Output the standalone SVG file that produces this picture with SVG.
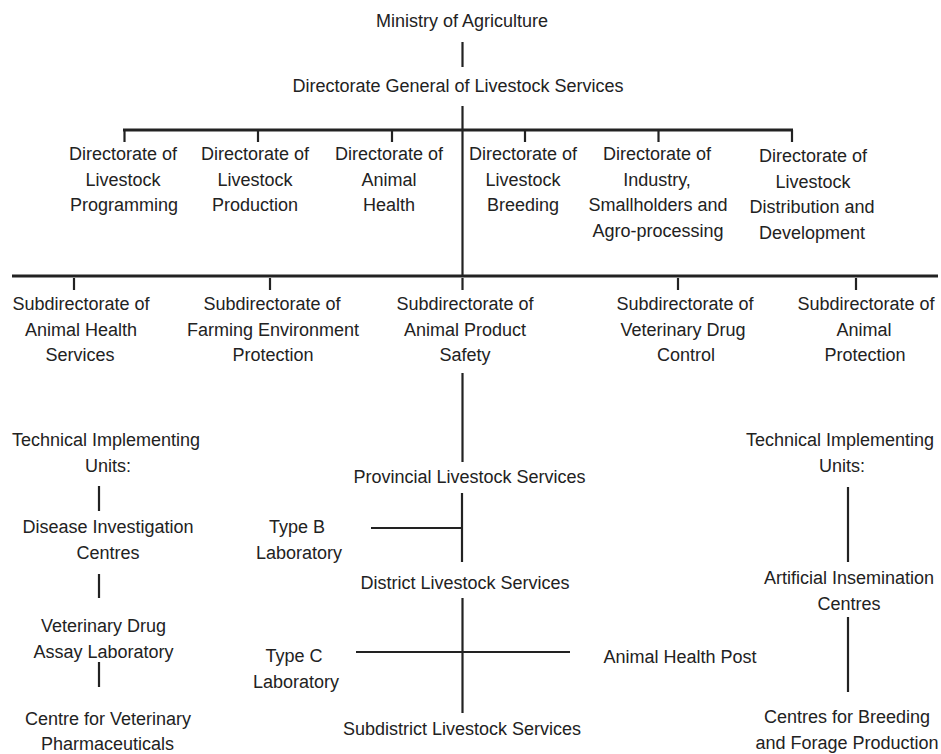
<svg xmlns="http://www.w3.org/2000/svg" width="941" height="754" viewBox="0 0 941 754">
<style>
text{font-family:"Liberation Sans",Arial,sans-serif;font-size:18px;fill:#222;text-anchor:middle}
.ln{stroke:#222;stroke-width:2.2;fill:none}
.bar{stroke:#222;stroke-width:3;fill:none}
</style>
<rect width="941" height="754" fill="#fff"/>
<g id="connectors">
<line class="ln" x1="462.5" y1="42" x2="462.5" y2="67"/>
<line class="ln" x1="462.5" y1="106" x2="462.5" y2="277"/>
<line class="bar" x1="123" y1="130" x2="793" y2="130"/>
<line class="ln" x1="124.5" y1="130" x2="124.5" y2="142"/>
<line class="ln" x1="258" y1="130" x2="258" y2="142"/>
<line class="ln" x1="392" y1="130" x2="392" y2="142"/>
<line class="ln" x1="525" y1="130" x2="525" y2="142"/>
<line class="ln" x1="658.5" y1="130" x2="658.5" y2="142"/>
<line class="ln" x1="792" y1="130" x2="792" y2="142"/>
<line class="bar" x1="12" y1="276" x2="938" y2="276"/>
<line class="ln" x1="74" y1="278" x2="74" y2="290"/>
<line class="ln" x1="270" y1="278" x2="270" y2="290"/>
<line class="ln" x1="462.5" y1="278" x2="462.5" y2="290"/>
<line class="ln" x1="678" y1="278" x2="678" y2="290"/>
<line class="ln" x1="856" y1="278" x2="856" y2="290"/>
<line class="ln" x1="462.5" y1="373" x2="462.5" y2="462"/>
<line class="ln" x1="462" y1="493" x2="462" y2="562"/>
<line class="ln" x1="371" y1="528" x2="462" y2="528"/>
<line class="ln" x1="462.5" y1="598" x2="462.5" y2="713"/>
<line class="ln" x1="356" y1="652" x2="570" y2="652"/>
<line class="ln" x1="99" y1="486" x2="99" y2="511"/>
<line class="ln" x1="99" y1="574" x2="99" y2="598"/>
<line class="ln" x1="99" y1="662" x2="99" y2="687"/>
<line class="ln" x1="848" y1="487" x2="848" y2="562"/>
<line class="ln" x1="848" y1="617" x2="848" y2="692"/>
</g>
<g id="ministry"><text x="462" y="27">Ministry of Agriculture</text></g>
<g id="dg"><text x="458" y="92">Directorate General of Livestock Services</text></g>
<g id="d1"><text x="123" y="160">Directorate of</text><text x="123" y="185.5">Livestock</text><text x="124" y="211">Programming</text></g>
<g id="d2"><text x="255" y="160">Directorate of</text><text x="255" y="185.5">Livestock</text><text x="255" y="211">Production</text></g>
<g id="d3"><text x="389" y="160">Directorate of</text><text x="389" y="185.5">Animal</text><text x="389" y="211">Health</text></g>
<g id="d4"><text x="523" y="160">Directorate of</text><text x="523" y="185.5">Livestock</text><text x="523" y="211">Breeding</text></g>
<g id="d5"><text x="657" y="160">Directorate of</text><text x="657" y="185.5">Industry,</text><text x="658" y="211">Smallholders and</text><text x="658" y="236.5">Agro-processing</text></g>
<g id="d6"><text x="813" y="162">Directorate of</text><text x="813" y="187.5">Livestock</text><text x="812" y="213">Distribution and</text><text x="812" y="238.5">Development</text></g>
<g id="s1"><text x="81" y="310">Subdirectorate of</text><text x="81" y="335.5">Animal Health</text><text x="80" y="361">Services</text></g>
<g id="s2"><text x="272" y="310">Subdirectorate of</text><text x="273" y="335.5">Farming Environment</text><text x="273" y="361">Protection</text></g>
<g id="s3"><text x="465" y="310">Subdirectorate of</text><text x="465" y="335.5">Animal Product</text><text x="465" y="361">Safety</text></g>
<g id="s4"><text x="685" y="310">Subdirectorate of</text><text x="683" y="335.5">Veterinary Drug</text><text x="686" y="361">Control</text></g>
<g id="s5"><text x="866" y="310">Subdirectorate of</text><text x="864" y="335.5">Animal</text><text x="865" y="361">Protection</text></g>
<g id="tiu-left"><text x="106" y="446">Technical Implementing</text><text x="108" y="472">Units:</text></g>
<g id="dic"><text x="108" y="533">Disease Investigation</text><text x="108" y="559">Centres</text></g>
<g id="vdal"><text x="103.5" y="632">Veterinary Drug</text><text x="103.5" y="658">Assay Laboratory</text></g>
<g id="cvp"><text x="108" y="725">Centre for Veterinary</text><text x="107.5" y="750">Pharmaceuticals</text></g>
<g id="provincial"><text x="469.5" y="483">Provincial Livestock Services</text></g>
<g id="typeb"><text x="297" y="533">Type B</text><text x="299" y="559">Laboratory</text></g>
<g id="district"><text x="465" y="589">District Livestock Services</text></g>
<g id="typec"><text x="294" y="662">Type C</text><text x="296" y="688">Laboratory</text></g>
<g id="ahp"><text x="680" y="663">Animal Health Post</text></g>
<g id="subdistrict"><text x="462" y="735">Subdistrict Livestock Services</text></g>
<g id="tiu-right"><text x="840" y="446">Technical Implementing</text><text x="842" y="472">Units:</text></g>
<g id="aic"><text x="849" y="584">Artificial Insemination</text><text x="849" y="610">Centres</text></g>
<g id="cbfp"><text x="847" y="723">Centres for Breeding</text><text x="847" y="749">and Forage Production</text></g>
</svg>
